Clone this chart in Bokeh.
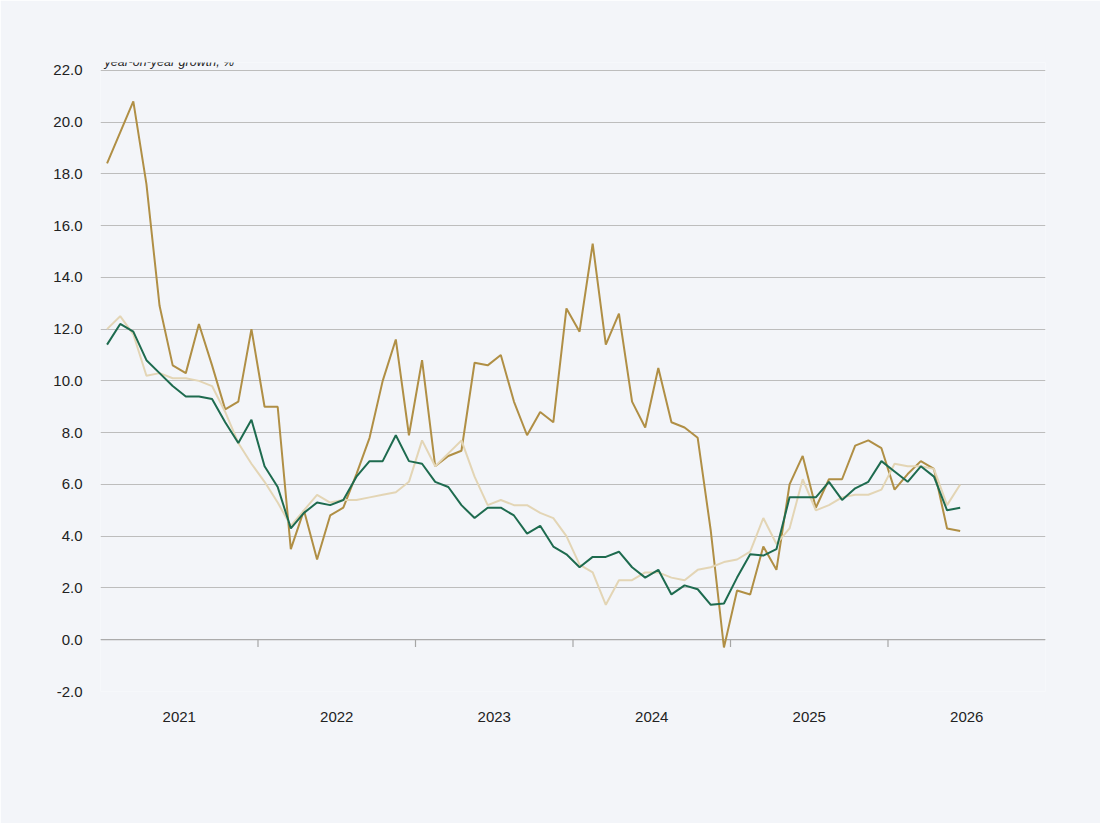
from bokeh.plotting import figure
from bokeh.models import Range1d, FixedTicker, Legend, LegendItem, Label, CustomJSTickFormatter
from bokeh.embed import file_html
from bokeh.resources import INLINE

years = ["2021", "2022", "2023", "2024", "2025", "2026"]
corporates = [18.4,19.6,20.8,17.6,12.9,10.6,10.3,12.2,10.6,8.9,
              9.2,12.0,9.0,9.0,3.5,5.0,3.1,4.8,5.1,6.4,
              7.8,10.0,11.6,7.9,10.8,6.7,7.1,7.3,10.7,10.6,
              11.0,9.2,7.9,8.8,8.4,12.8,11.9,15.3,11.4,12.6,
              9.2,8.2,10.5,8.4,8.2,7.8,4.2,-0.3,1.9,1.75,
              3.6,2.7,6.0,7.1,5.1,6.2,6.2,7.5,7.7,7.4,
              5.8,6.4,6.9,6.6,4.3,4.2]
household = [12.0,12.5,11.8,10.2,10.3,10.1,10.1,10.0,9.8,8.8,
             7.6,6.8,6.1,5.3,4.4,5.0,5.6,5.3,5.4,5.4,
             5.5,5.6,5.7,6.1,7.7,6.7,7.2,7.7,6.3,5.2,
             5.4,5.2,5.2,4.9,4.7,4.0,2.9,2.6,1.35,2.3,
             2.3,2.6,2.6,2.4,2.3,2.7,2.8,3.0,3.1,3.4,
             4.7,3.7,4.3,6.2,5.0,5.2,5.5,5.6,5.6,5.8,
             6.8,6.7,6.7,6.6,5.2,6.0]
nonbanking = [11.4,12.2,11.9,10.8,10.3,9.8,9.4,9.4,9.3,8.4,
              7.6,8.5,6.7,5.9,4.3,4.9,5.3,5.2,5.4,6.3,
              6.9,6.9,7.9,6.9,6.8,6.1,5.9,5.2,4.7,5.1,
              5.1,4.8,4.1,4.4,3.6,3.3,2.8,3.2,3.2,3.4,
              2.8,2.4,2.7,1.75,2.1,1.95,1.35,1.4,2.4,3.3,
              3.25,3.5,5.5,5.5,5.5,6.1,5.4,5.85,6.1,6.9,
              6.5,6.1,6.7,6.3,5.0,5.1]

months = list(range(len(corporates)))
BG = "#f3f5f9"
FONT = "Liberation Sans"

p = figure(width=1100, height=823, output_backend="svg", toolbar_location=None,
           x_range=Range1d(-0.5, 71.5), y_range=Range1d(-2, 22.3),
           min_border_left=100, min_border_right=55, min_border_top=62, min_border_bottom=132,
           background_fill_color=BG, border_fill_color=BG, outline_line_color=None)

p.yaxis.ticker = FixedTicker(ticks=list(range(-2, 23, 2)))
p.yaxis.formatter = CustomJSTickFormatter(code="return tick.toFixed(1);")
p.yaxis.axis_line_color = None
p.yaxis.major_tick_line_color = None
p.yaxis.minor_tick_line_color = None
p.yaxis.major_label_text_font = FONT
p.yaxis.major_label_text_font_size = "15px"
p.yaxis.major_label_text_color = "#222222"
p.yaxis.major_label_standoff = 12

centers = [5.5 + 12 * i for i in range(len(years))]
p.xaxis.ticker = FixedTicker(ticks=centers)
p.xaxis.major_label_overrides = {c: y for c, y in zip(centers, years)}
p.xaxis.axis_line_color = None
p.xaxis.major_tick_line_color = None
p.xaxis.minor_tick_line_color = None
p.xaxis.major_label_text_font = FONT
p.xaxis.major_label_text_font_size = "15px"
p.xaxis.major_label_text_color = "#222222"
p.xaxis.major_label_standoff = 14

p.xgrid.grid_line_color = None
p.ygrid.ticker = FixedTicker(ticks=list(range(-2, 23, 2)))
p.ygrid.grid_line_color = "#bdbdbd"
p.ygrid.grid_line_width = 1

p.segment(x0=[-0.5], y0=[0], x1=[71.5], y1=[0], line_color="#a6a6a6", line_width=1.2)
tks = [11.5 + 12 * i for i in range(5)]
p.segment(x0=tks, y0=[0] * 5, x1=tks, y1=[-0.28] * 5, line_color="#a6a6a6", line_width=1.2)

r1 = p.line(months, corporates, line_color="#b08f45", line_width=2)
r2 = p.line(months, household, line_color="#e3d5b5", line_width=2)
r3 = p.line(months, nonbanking, line_color="#1e6b4f", line_width=2)

p.add_layout(Label(x=4, y=22.05, x_units="screen", text="year-on-year growth, %",
                   text_font=FONT, text_font_size="12.5px", text_font_style="italic",
                   text_color="#222222", text_baseline="bottom"))

legend = Legend(items=[LegendItem(label="Deposits by corporates", renderers=[r1]),
                       LegendItem(label="Household deposits", renderers=[r2]),
                       LegendItem(label="Deposits by non-banking sector", renderers=[r3])],
                orientation="horizontal", location=(7, -110), spacing=88,
                glyph_width=38, label_standoff=4, padding=0, margin=0,
                background_fill_alpha=0, border_line_color=None,
                label_text_font=FONT, label_text_font_size="15.5px", label_text_color="#222222")
p.add_layout(legend, "center")

open("out.html", "w").write(file_html(p, INLINE))
